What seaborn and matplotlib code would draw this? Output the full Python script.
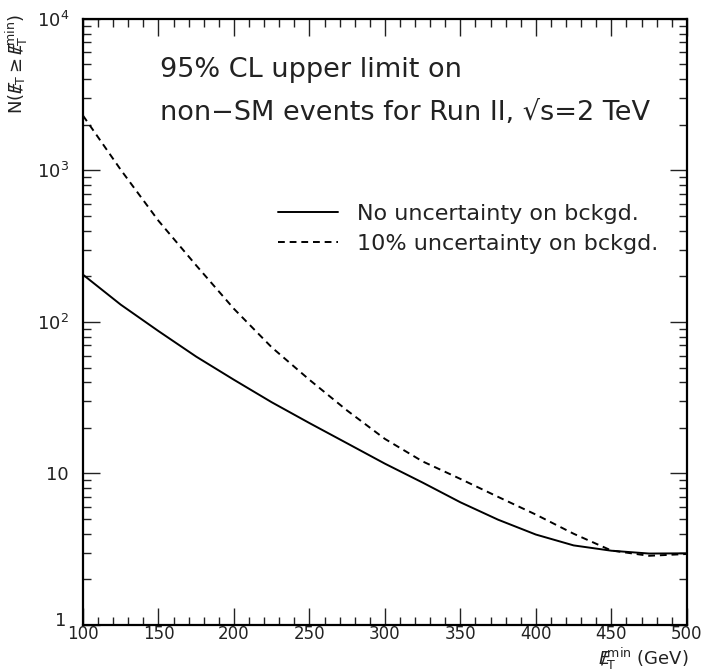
import numpy as np
import pandas as pd
import matplotlib
matplotlib.use("Agg")
import matplotlib.pyplot as plt
import matplotlib.ticker as mticker
import matplotlib.transforms as mtransforms
import seaborn as sns

# missing E_T threshold (GeV)
et_min = [100, 125, 150, 175, 200, 225, 250, 275, 300, 325, 350, 375, 400, 425, 450, 475, 500]
# 95% CL upper limit, no background uncertainty
no_unc = [205, 130, 87, 59, 41.5, 29.5, 21.5, 15.8, 11.6, 8.7, 6.45, 4.95, 3.95, 3.35, 3.09, 2.96, 2.97]
# 95% CL upper limit, 10% background uncertainty
ten_unc = [2300, 1010, 465, 236, 122, 68, 41.5, 26, 16.9, 12.0, 9.2, 7.0, 5.35, 4.0, 3.1, 2.86, 2.94]

labels = ["No uncertainty on bckgd.", "10% uncertainty on bckgd."]

df = pd.concat([
    pd.DataFrame({"et": et_min, "n": no_unc, "case": labels[0]}),
    pd.DataFrame({"et": et_min, "n": ten_unc, "case": labels[1]}),
])

sns.set_theme(style="ticks")
plt.rcParams["font.family"] = ["DejaVu Sans"]

fig = plt.figure(figsize=(7.03, 6.72), dpi=100)
ax = fig.add_axes([0.118, 0.070, 0.859, 0.902])

dash = (3.5, 2.5)
sns.lineplot(data=df, x="et", y="n", hue="case", style="case",
             palette=["black", "black"], dashes=[(None, None), dash],
             linewidth=1.4, ax=ax, legend=False)

ax.set_yscale("log")
ax.set_xlim(100, 500)
ax.set_ylim(1, 1e4)

# axis frame and ticks, inward on all four sides
for s in ax.spines.values():
    s.set_linewidth(1.6)
    s.set_color("black")
ax.xaxis.set_major_locator(mticker.MultipleLocator(50))
ax.xaxis.set_minor_locator(mticker.MultipleLocator(10))
ax.yaxis.set_major_locator(mticker.LogLocator(base=10, numticks=10))
ax.yaxis.set_minor_locator(mticker.LogLocator(base=10, subs=np.arange(2, 10), numticks=10))
ax.yaxis.set_minor_formatter(mticker.NullFormatter())


def ylab(v, pos):
    e = int(round(np.log10(v)))
    if e == 0:
        return "1"
    if e == 1:
        return "10"
    return r"10$^{%d}$" % e


ax.yaxis.set_major_formatter(mticker.FuncFormatter(ylab))
ax.tick_params(which="both", direction="in", top=True, right=True, color="#222222",
               labelsize=13, width=1.0, labelcolor="#222222")
ax.tick_params(which="major", length=12)
ax.tick_params(which="minor", length=6)
ax.tick_params(axis="x", which="major", pad=0, labelsize=12)
ax.tick_params(axis="y", which="major", pad=10)

ax.set_xlabel("")
ax.set_ylabel("")

met = r"E\!\!\!/_{\mathregular{T}}"
fig.text(0.005, 0.905, r"N($%s \geq %s^{\mathregular{min}}$)" % (met, met),
         rotation=90, ha="left", va="center", fontsize=13, color="#222222")
fig.text(0.979, 0.020, r"$%s^{\mathregular{min}}$ (GeV)" % met,
         ha="right", va="center", fontsize=13, color="#222222")

# annotation
ax.text(0.128, 0.915, "95% CL upper limit on", transform=ax.transAxes,
        fontsize=19.5, ha="left", va="center", color="#222222")
ax.text(0.128, 0.845, "non\u2212SM events for Run II, \u221as=2 TeV", transform=ax.transAxes,
        fontsize=19.5, ha="left", va="center", color="#222222")

# legend
h1, = ax.plot([], [], color="black", lw=1.4)
h2, = ax.plot([], [], color="black", lw=1.4, ls=(0, dash))
leg = ax.legend([h1, h2], labels, loc="upper left", bbox_to_anchor=(0.323, 0.695),
                frameon=False, fontsize=16, handlelength=2.7, handletextpad=0.85,
                labelspacing=0.45, borderpad=0, borderaxespad=0)
for t in leg.get_texts():
    t.set_color("#222222")

# nudge the "1" label up-left so it clears the "100" below it
fig.canvas.draw()
shift = mtransforms.ScaledTranslation(-3 / 100, 6 / 100, fig.dpi_scale_trans)
for tk in ax.yaxis.get_major_ticks():
    if tk.label1.get_text() == "1":
        tk.label1.set_transform(tk.label1.get_transform() + shift)

fig.savefig("out.png", dpi=100)
